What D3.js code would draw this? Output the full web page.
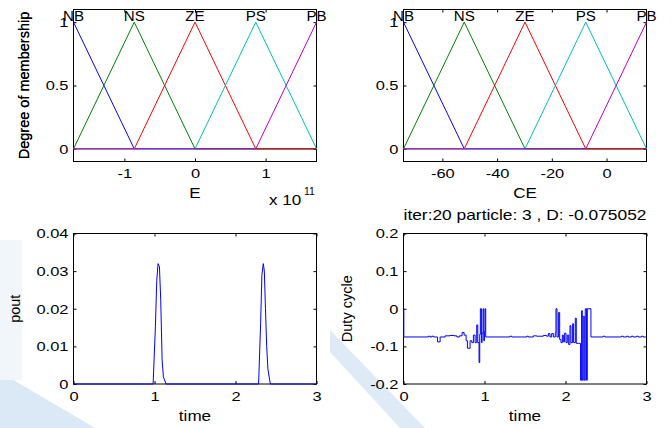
<!DOCTYPE html>
<html><head><meta charset="utf-8">
<script src="https://cdn.jsdelivr.net/npm/d3@7"></script>
<style>
body{margin:0;background:#fff;}
svg text{font-family:"Liberation Sans",Arial,Helvetica,sans-serif;fill:#000;}
</style></head><body>
<svg id="chart" width="671" height="428"></svg>
<script>
// ---------- data ----------
const mfNames  = ["NB","NS","ZE","PS","PB"];
const mfColors = ["#0000ff","#008000","#ff0000","#00bfbf","#bf00bf"];
const eCenters  = [-1.72,-0.86,0,0.86,1.72];      // x 1e11
const ceCenters = [-74.2,-52.0,-29.8,-7.6,14.6];
const eTicks  = [-1,0,1];
const ceTicks = [-60,-40,-20,0];
const mfTicks = [0,0.5,1];
const timeTicks = [0,1,2,3];
const poutTicks = [0,0.01,0.02,0.03,0.04];
const dutyTicks = [-0.2,-0.1,0,0.1,0.2];

const poutTime  = [0,0.983,1.011,1.028,1.044,1.061,1.077,1.094,1.110,1.143,
                   2.285,2.31,2.326,2.343,2.356,2.37,2.385,2.40,2.43,3];
const poutValue = [0,0,0.0152,0.0276,0.032,0.0311,0.0223,0.0064,0.0019,0,
                   0,0.016,0.029,0.032,0.030,0.020,0.010,0.004,0,0];

const dutyTime = [0,0.004,0.308,0.329,0.349,0.37,0.419,0.452,0.514,0.575,0.625,0.658,0.69,0.723,
  0.748,0.773,0.789,0.822,0.843,0.863,0.884,0.904,0.917,0.933,0.941,0.949,0.962,0.97,0.982,
  0.991,0.999,1.007,1.015,1.315,1.336,1.521,1.541,1.603,1.644,1.726,1.767,1.788,1.808,1.829,
  1.85,1.874,1.882,1.895,1.915,1.928,1.944,1.961,1.973,1.989,2.006,2.022,2.039,2.055,2.067,
  2.088,2.1,2.121,2.133,2.158,2.186,2.199,2.207,2.219,2.232,2.244,2.26,2.269,2.314,2.466,
  2.487,2.692,2.713,2.754,2.774,2.815,2.836,2.877,2.897,2.939,2.959,3];
const dutyValue = [0,-0.075,-0.073,-0.075,-0.073,-0.075,-0.088,-0.075,-0.072,-0.071,-0.072,-0.075,-0.072,-0.063,
  -0.07,-0.085,-0.105,-0.085,-0.09,-0.07,-0.09,-0.043,-0.09,-0.143,-0.068,0,-0.09,-0.065,0,
  -0.085,-0.06,0,-0.075,-0.073,-0.075,-0.073,-0.075,-0.072,-0.073,-0.071,-0.073,-0.066,-0.075,-0.066,
  -0.075,-0.064,0,-0.075,-0.01,-0.082,-0.09,-0.07,-0.088,-0.065,-0.09,-0.07,-0.095,-0.045,-0.09,
  -0.04,-0.09,-0.025,-0.092,-0.092,-0.19,-0.005,-0.19,-0.02,-0.19,0,-0.19,0,-0.075,-0.073,
  -0.075,-0.073,-0.075,-0.073,-0.075,-0.073,-0.075,-0.073,-0.075,-0.073,-0.075,-0.075];

// ---------- drawing ----------
const svg = d3.select("#chart");
const SX = 1.22;
const fmt = d => String(d);   // plain hyphen minus, as in the reference

// faint background watermark
const wm = svg.append("g").attr("opacity",0.8);
wm.append("path").attr("d","M0,372 L0,428 L95,428 Z").attr("fill","#d3e4f4");
wm.append("path").attr("d","M330,330 L330,352 L400,428 L425,428 Z").attr("fill","#d6e6f5");
wm.append("path").attr("d","M0,240 L22,240 L22,380 L0,380 Z").attr("fill","#eef4fa");

function stretchText(sel, sx){
  sel.each(function(){
    const t = d3.select(this);
    const x = +t.attr("x") || 0;
    t.attr("x", x/sx).attr("transform", `scale(${sx},1)`);
  });
}

function panel(opt){
  const g = svg.append("g");
  const x = d3.scaleLinear().domain(opt.xDomain).range([opt.left, opt.right]);
  const y = d3.scaleLinear().domain(opt.yDomain).range([opt.bottom, opt.top]);

  const bx = g.append("g").attr("transform",`translate(0,${opt.bottom})`)
    .call(d3.axisBottom(x).tickValues(opt.xTicks).tickSize(-3).tickPadding(7).tickSizeOuter(0).tickFormat(fmt));
  const tx = g.append("g").attr("transform",`translate(0,${opt.top})`)
    .call(d3.axisTop(x).tickValues(opt.xTicks).tickSize(-3).tickSizeOuter(0).tickFormat(""));
  const ly = g.append("g").attr("transform",`translate(${opt.left},0)`)
    .call(d3.axisLeft(y).tickValues(opt.yTicks).tickSize(-3).tickPadding(5).tickSizeOuter(0).tickFormat(fmt));
  const ry = g.append("g").attr("transform",`translate(${opt.right},0)`)
    .call(d3.axisRight(y).tickValues(opt.yTicks).tickSize(-3).tickSizeOuter(0).tickFormat(""));
  [bx,tx,ly,ry].forEach(a=>{
    a.select(".domain").remove();
    a.attr("font-family",null).attr("font-size",null);
    a.selectAll("line").attr("stroke","#000");
    a.selectAll("text").attr("font-size","13.5px").attr("fill","#000");
  });
  stretchText(bx.selectAll("text"), SX);
  stretchText(ly.selectAll("text"), SX);

  g.append("rect").attr("x",opt.left).attr("y",opt.top)
    .attr("width",opt.right-opt.left).attr("height",opt.bottom-opt.top)
    .attr("fill","none").attr("stroke","#000").attr("stroke-width",1);

  g.append("text").attr("text-anchor","middle").attr("font-size","14px")
    .attr("x",((opt.left+opt.right)/2)/SX).attr("y",opt.xLabelY)
    .attr("transform",`scale(${SX},1)`).text(opt.xLabel);
  g.append("text").attr("text-anchor","middle").attr("font-size","14.5px")
    .attr("transform",`translate(${opt.yLabelX},${(opt.top+opt.bottom)/2}) rotate(-90)`)
    .text(opt.yLabel);
  return {g,x,y};
}

const topOpts = {yDomain:[-0.1,1.1], yTicks:mfTicks, top:9.5, bottom:161.5, xLabelY:198,
  yLabel:"Degree of membership", yLabelX:29};

const p1 = panel(Object.assign({}, topOpts, {xDomain:[eCenters[0],eCenters[4]], xTicks:eTicks,
  left:73.5, right:316.5, xLabel:"E"}));
const p2 = panel(Object.assign({}, topOpts, {xDomain:[ceCenters[0],ceCenters[4]], xTicks:ceTicks,
  left:403.5, right:646.5, xLabel:"CE"}));

function drawMF(p, centers){
  const n = centers.length;
  centers.forEach((c,i)=>{
    const pts = [];
    if (i>1) pts.push([centers[0],0]);
    if (i>0) pts.push([centers[i-1],0]);
    pts.push([c,1]);
    if (i<n-1) pts.push([centers[i+1],0]);
    if (i<n-2) pts.push([centers[n-1],0]);
    p.g.append("path").datum(pts)
      .attr("d", d3.line().x(d=>p.x(d[0])).y(d=>p.y(d[1])))
      .attr("fill","none").attr("stroke",mfColors[i]).attr("stroke-width",1);
  });
  centers.forEach((c,i)=>{
    p.g.append("text").attr("text-anchor","middle").attr("font-size","14px")
      .attr("x",p.x(c)/1.08).attr("y",p.y(1)-1.5)
      .attr("transform","scale(1.08,1)").text(mfNames[i]);
  });
}
drawMF(p1, eCenters);
drawMF(p2, ceCenters);

// exponent note
svg.append("text").attr("font-size","14px").attr("x",269/SX).attr("y",205)
  .attr("transform",`scale(${SX},1)`).text("x 10");
svg.append("text").attr("font-size","10.5px").attr("x",304).attr("y",195).text("11");

const p3 = panel({xDomain:[0,3], yDomain:[0,0.04], xTicks:timeTicks, yTicks:poutTicks,
  left:73.5, right:316.5, top:233.5, bottom:384, xLabelY:421, xLabel:"time",
  yLabel:"pout", yLabelX:20});
p3.g.append("path").datum(d3.zip(poutTime,poutValue))
  .attr("d", d3.line().x(d=>p3.x(d[0])).y(d=>p3.y(d[1])))
  .attr("fill","none").attr("stroke","#0000ff").attr("stroke-width",1);

const p4 = panel({xDomain:[0,3], yDomain:[-0.2,0.2], xTicks:timeTicks, yTicks:dutyTicks,
  left:403.5, right:646.5, top:233.5, bottom:384, xLabelY:421, xLabel:"time",
  yLabel:"Duty cycle", yLabelX:352});
p4.g.append("path").datum(d3.zip(dutyTime,dutyValue))
  .attr("d", d3.line().curve(d3.curveStepAfter).x(d=>p4.x(d[0])).y(d=>p4.y(d[1])))
  .attr("fill","none").attr("stroke","#0000ff").attr("stroke-width",1);

svg.append("text").attr("text-anchor","middle").attr("font-size","14px")
  .attr("x",525/1.24).attr("y",220).attr("transform","scale(1.24,1)")
  .text("iter:20 particle: 3 , D: -0.075052");
</script>
</body></html>
